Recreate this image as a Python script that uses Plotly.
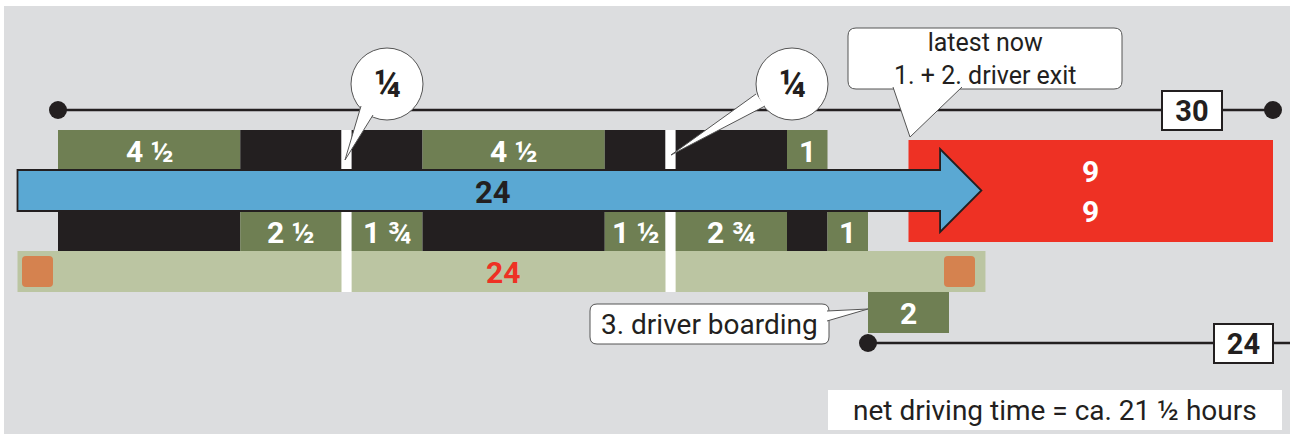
import plotly.graph_objects as go

# ---------------- data (hours) ----------------
shift_start = 1.0
upper_types = ["drive", "break", "gap", "break", "drive", "break", "gap", "break", "drive"]
upper_hours = [4.5, 2.5, 0.25, 1.75, 4.5, 1.5, 0.25, 2.75, 1.0]
upper_labels = ["4 ½", "", "", "", "4 ½", "", "", "", "1"]

lower_types = ["break", "drive", "gap", "drive", "break", "drive", "gap", "drive", "break", "drive"]
lower_hours = [4.5, 2.5, 0.25, 1.75, 4.5, 1.5, 0.25, 2.75, 1.0, 1.0]
lower_labels = ["", "2 ½", "", "1 ¾", "", "1 ½", "", "2 ¾", "", "1"]

arrow_start, arrow_end, arrow_label = 0.0, 23.8, "24"
band_start, band_end, band_label = 0.0, 23.9, "24"
rest_start, rest_hours, rest_labels = 22.0, 9.0, ["9", "9"]
boarding_start, boarding_hours, boarding_label = 21.0, 2.0, "2"
period1_start, period1_hours, period1_label = 1.0, 30.0, "30"
period2_start, period2_hours, period2_label = 21.0, 24.0, "24"
quarter_labels = ["¼", "¼"]
note_exit = "latest now<br>1. + 2. driver exit"
note_boarding = "3. driver boarding"
note_net = "net driving time = ca. 21 ½ hours"

# ---------------- style ----------------
W, H = 1290, 434
PXH = 40.5          # pixels per hour
X0 = 17.5           # pixel position of hour 0
def hx(px):
    return (px - X0) / PXH

GREEN = "#6f7f53"
BLACK = "#231f20"
LIGHT = "#bbc5a2"
BLUE = "#5aa8d3"
RED = "#ee3124"
ORANGE = "#d5824f"
BG = "#dcdddf"
FONT = "Roboto"
NUM = 30
COLORS = {"drive": GREEN, "break": BLACK, "gap": "white"}

fig = go.Figure()
shapes = []
annotations = []

# background
shapes.append(dict(type="rect", xref="paper", yref="paper", x0=4 / W, x1=1, y0=0, y1=1 - 6 / H,
                   fillcolor=BG, line=dict(width=0), layer="below"))

# light band
fig.add_trace(go.Bar(orientation="h", y=[271.5], x=[band_end - band_start], base=[band_start],
                     width=[41], marker=dict(color=LIGHT, line=dict(width=0)), hoverinfo="skip"))

def add_row(types, hours, labels, yc, height):
    starts = []
    s = shift_start
    for d in hours:
        starts.append(s)
        s += d
    fig.add_trace(go.Bar(orientation="h", y=[yc] * len(hours), x=hours, base=starts,
                         width=[height] * len(hours),
                         marker=dict(color=[COLORS[t] for t in types], line=dict(width=0)),
                         hoverinfo="skip"))
    for st, d, lab in zip(starts, hours, labels):
        if lab:
            annotations.append(dict(x=st + d / 2, y=yc + 1, text="<b>%s</b>" % lab, showarrow=False,
                                    font=dict(family=FONT, size=NUM, color="white")))
    return starts

upper_starts = add_row(upper_types, upper_hours, upper_labels, 150, 40)
lower_starts = add_row(lower_types, lower_hours, lower_labels, 231, 40)

# gaps through the light band (lower)
gs = [st for st, t in zip(lower_starts, lower_types) if t == "gap"]
gd = [d for d, t in zip(lower_hours, lower_types) if t == "gap"]
fig.add_trace(go.Bar(orientation="h", y=[271.5] * len(gs), x=gd, base=gs, width=[41] * len(gs),
                     marker=dict(color="white", line=dict(width=0)), hoverinfo="skip"))

# rest (red)
fig.add_trace(go.Bar(orientation="h", y=[191], x=[rest_hours], base=[rest_start], width=[102],
                     marker=dict(color=RED, line=dict(width=0)), hoverinfo="skip"))
annotations.append(dict(x=rest_start + rest_hours / 2, y=171, text="<b>%s</b>" % rest_labels[0],
                        showarrow=False, font=dict(family=FONT, size=NUM, color="white")))
annotations.append(dict(x=rest_start + rest_hours / 2, y=211, text="<b>%s</b>" % rest_labels[1],
                        showarrow=False, font=dict(family=FONT, size=NUM, color="white")))

# boarding
fig.add_trace(go.Bar(orientation="h", y=[312.5], x=[boarding_hours], base=[boarding_start], width=[41],
                     marker=dict(color=GREEN, line=dict(width=0)), hoverinfo="skip"))
annotations.append(dict(x=boarding_start + boarding_hours / 2, y=313, text="<b>%s</b>" % boarding_label,
                        showarrow=False, font=dict(family=FONT, size=NUM, color="white")))

# band label
annotations.append(dict(x=(hx(503)), y=272, text="<b>%s</b>" % band_label, showarrow=False,
                        font=dict(family=FONT, size=NUM, color=RED)))

# orange markers (rounded squares)
def rrect(x0, x1, y0, y1, r):
    rx = r / PXH
    return (f"M {x0+rx},{y0} L {x1-rx},{y0} Q {x1},{y0} {x1},{y0+r} L {x1},{y1-r} "
            f"Q {x1},{y1} {x1-rx},{y1} L {x0+rx},{y1} Q {x0},{y1} {x0},{y1-r} "
            f"L {x0},{y0+r} Q {x0},{y0} {x0+rx},{y0} Z")
for cx in (hx(37.5), hx(959.5)):
    shapes.append(dict(type="path", xref="x", yref="y", path=rrect(cx - 15.5 / PXH, cx + 15.5 / PXH, 256, 287, 4),
                       fillcolor=ORANGE, line=dict(width=0)))

# blue arrow
head_start = arrow_end - 1.02
p = (f"M {arrow_start},170 L {head_start},170 L {head_start},149 L {arrow_end},190.5 "
     f"L {head_start},232 L {head_start},211 L {arrow_start},211 Z")
shapes.append(dict(type="path", xref="x", yref="y", path=p, fillcolor=BLUE, line=dict(color=BLACK, width=1.8)))
annotations.append(dict(x=hx(493), y=192, text="<b>%s</b>" % arrow_label, showarrow=False,
                        font=dict(family=FONT, size=31, color=BLACK)))

# timelines
fig.add_trace(go.Scatter(x=[period1_start, period1_start + period1_hours], y=[110, 110], mode="lines+markers",
                         line=dict(color=BLACK, width=2.5), marker=dict(size=18, color=BLACK),
                         hoverinfo="skip", cliponaxis=False))
fig.add_trace(go.Scatter(x=[period2_start, period2_start + period2_hours], y=[343, 343], mode="lines",
                         line=dict(color=BLACK, width=2.5), hoverinfo="skip"))
fig.add_trace(go.Scatter(x=[period2_start], y=[343], mode="markers", marker=dict(size=18, color=BLACK),
                         hoverinfo="skip"))
annotations.append(dict(x=hx(1192), y=110, text="<b>%s</b>" % period1_label, showarrow=False,
                        bgcolor="white", bordercolor=BLACK, borderwidth=2, borderpad=0, width=58, height=37,
                        font=dict(family=FONT, size=29, color=BLACK)))
annotations.append(dict(x=hx(1243.5), y=343, text="<b>%s</b>" % period2_label, showarrow=False,
                        bgcolor="white", bordercolor=BLACK, borderwidth=2, borderpad=0, width=57, height=37,
                        font=dict(family=FONT, size=29, color=BLACK)))

# quarter-hour callouts
CALL_LINE = dict(color="#555555", width=1)
for (ccx, ccy), (b1, b2, tip), lab in zip(
        [(387, 84), (792, 84)],
        [((363, 108), (375, 117), (345, 160)), ((758, 96), (767, 108), (671, 155))],
        quarter_labels):
    shapes.append(dict(type="circle", xref="x", yref="y", x0=hx(ccx - 36), x1=hx(ccx + 36),
                       y0=ccy - 36, y1=ccy + 36, fillcolor="white", line=CALL_LINE))
    shapes.append(dict(type="path", xref="x", yref="y",
                       path=f"M {hx(b1[0]-2)},{b1[1]-2} L {hx(tip[0])},{tip[1]} L {hx(b2[0]-2)},{b2[1]-2}",
                       fillcolor="white", line=CALL_LINE))
    annotations.append(dict(x=hx(ccx), y=ccy, text="<b>%s</b>" % lab, showarrow=False,
                            font=dict(family=FONT, size=38, color=BLACK)))

# exit callout box
shapes.append(dict(type="path", xref="x", yref="y", path=rrect(hx(848), hx(1122), 28, 89, 8),
                   fillcolor="white", line=CALL_LINE))
shapes.append(dict(type="path", xref="x", yref="y",
                   path=f"M {hx(893)},{87} L {hx(910)},{137} L {hx(962)},{87}",
                   fillcolor="white", line=CALL_LINE))
annotations.append(dict(x=hx(985), y=59, text=note_exit, showarrow=False,
                        font=dict(family=FONT, size=25, color=BLACK)))

# boarding callout
shapes.append(dict(type="path", xref="x", yref="y", path=rrect(hx(590), hx(829), 304, 344, 7),
                   fillcolor="white", line=CALL_LINE))
shapes.append(dict(type="path", xref="x", yref="y",
                   path=f"M {hx(827)},{311} L {hx(868)},{309} L {hx(827)},{321}",
                   fillcolor="white", line=CALL_LINE))
annotations.append(dict(x=hx(709.5), y=324, text=note_boarding, showarrow=False,
                        font=dict(family=FONT, size=28, color=BLACK)))

# net driving note
shapes.append(dict(type="rect", xref="x", yref="y", x0=hx(828), x1=hx(1282), y0=390, y1=430,
                   fillcolor="white", line=dict(width=0)))
annotations.append(dict(x=hx(1055), y=410, text=note_net, showarrow=False,
                        font=dict(family=FONT, size=28, color=BLACK)))

fig.update_layout(
    width=W, height=H, margin=dict(l=0, r=0, t=0, b=0),
    paper_bgcolor="white", plot_bgcolor="rgba(0,0,0,0)",
    barmode="overlay", showlegend=False,
    xaxis=dict(range=[hx(0), hx(W)], visible=False, fixedrange=True),
    yaxis=dict(range=[H, 0], visible=False, fixedrange=True),
    shapes=shapes, annotations=annotations,
)
fig.write_html("out.html", config={"displayModeBar": False},
               post_script="document.body.style.margin='0';document.body.style.overflow='hidden';")
